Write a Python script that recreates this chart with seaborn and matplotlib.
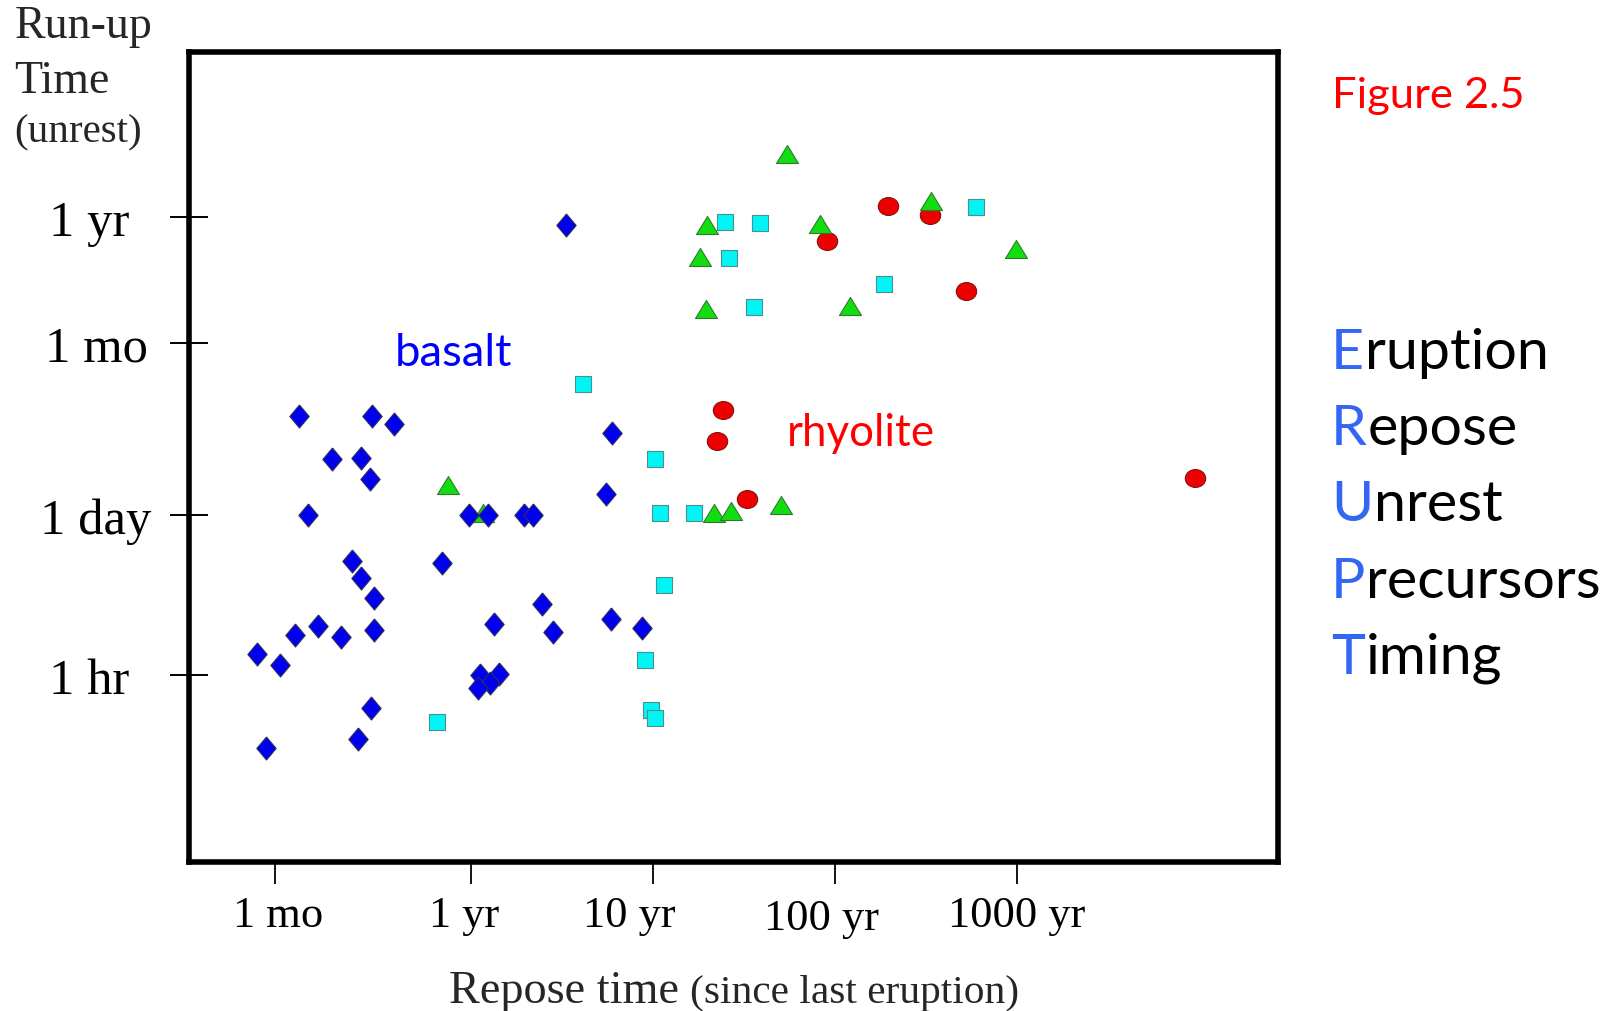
import numpy as np
import pandas as pd
import matplotlib
matplotlib.use("Agg")
import matplotlib.pyplot as plt
import seaborn as sns
from matplotlib.path import Path
from matplotlib.ticker import NullLocator, NullFormatter
from matplotlib.transforms import ScaledTranslation

# ---------------- data (repose time in years, run-up time in days) ----------------
diamond_repose_yr = [3.3, 0.113, 0.283, 0.377, 0.170, 0.248, 0.276, 0.126, 0.97, 1.24,
                     1.94, 2.18, 5.5, 5.97, 0.689, 0.221, 0.248, 0.290, 0.290, 0.143,
                     0.107, 0.191, 0.0662, 0.0883, 1.34, 2.45, 2.83, 5.89, 8.71, 1.12,
                     1.41, 1.27, 1.09, 0.279, 0.239, 0.0745]
diamond_runup_day = [311, 7.1, 7.1, 6.1, 3.05, 3.1, 2.03, 1.0, 1.0, 1.0,
                     1.0, 1.0, 1.52, 5.1, 0.387, 0.403, 0.284, 0.193, 0.102, 0.111,
                     0.0925, 0.0887, 0.064, 0.0511, 0.116, 0.171, 0.098, 0.128, 0.107, 0.0416,
                     0.0425, 0.036, 0.0326, 0.0216, 0.0119, 0.00993]

square_repose_yr = [24.8, 38.7, 597, 26.2, 35.8, 186, 4.13, 10.3, 10.9, 16.8,
                    11.5, 9.06, 9.68, 10.2, 0.645]
square_runup_day = [331, 324, 450, 162, 61.8, 96.8, 13.3, 3.05, 1.03, 1.03,
                    0.247, 0.0565, 0.0211, 0.0179, 0.0165]

triangle_repose_yr = [54.4, 19.9, 82.7, 340, 993, 18.1, 19.6, 121, 0.745, 1.16,
                      21.5, 26.8, 50.3]
triangle_runup_day = [1277, 311, 318, 498, 194, 165, 59.3, 63.1, 1.80, 1.03,
                      1.03, 1.08, 1.22]

circle_repose_yr = [196, 336, 90.6, 530, 24.2, 22.4, 32.7, 9550]
circle_runup_day = [459, 382, 229, 84.1, 8.02, 4.33, 1.37, 2.07]

x_tick_values = [1 / 12, 1, 10, 100, 1000]
x_tick_labels = ["1 mo", "1 yr", "10 yr", "100 yr", "1000 yr"]
y_tick_values = [1 / 24, 1, 30, 365]
y_tick_labels = ["1 hr", "1 day", "1 mo", "1 yr"]

erupt_words = ["Eruption", "Repose", "Unrest", "Precursors", "Timing"]

# ---------------- build table ----------------
frames = []
for name, xs, ys in [("circle", circle_repose_yr, circle_runup_day),
                     ("square", square_repose_yr, square_runup_day),
                     ("triangle", triangle_repose_yr, triangle_runup_day),
                     ("diamond", diamond_repose_yr, diamond_runup_day)]:
    frames.append(pd.DataFrame({"repose": xs, "runup": ys, "group": name}))
df = pd.concat(frames, ignore_index=True)

# ---------------- figure ----------------
sns.set_style("white")
W, H = 1619, 1012
fig = plt.figure(figsize=(W / 100, H / 100), dpi=100)
fig.patch.set_facecolor("white")


def fx(x):
    return x / W


def fy(y):
    return 1 - y / H


ax = fig.add_axes([fx(189), fy(863), (1277.5 - 189) / W, (863 - 52.5) / H])
ax.set_facecolor("white")
ax.set_xscale("log")
ax.set_yscale("log")

uc = Path.unit_circle()
ellipse_marker = Path(uc.vertices * np.array([1.0, 0.88]), uc.codes)
diamond_marker = [(0, 1), (0.84, 0), (0, -1), (-0.84, 0), (0, 1)]
triangle_marker = [(-1, -0.82), (1, -0.82), (0, 0.82), (-1, -0.82)]

styles = {
    "circle": dict(marker=ellipse_marker, color="#EE0000", edgecolor="#8A1010", s=215),
    "square": dict(marker="s", color="#00F5F5", edgecolor="#4A9090", s=117),
    "triangle": dict(marker=triangle_marker, color="#11DD11", edgecolor="#2E7A2E", s=250),
    "diamond": dict(marker=diamond_marker, color="#0000EE", edgecolor="#30305A", s=275),
}
for name in ["circle", "square", "triangle", "diamond"]:
    sub = df[df["group"] == name]
    st = styles[name]
    sns.scatterplot(data=sub, x="repose", y="runup", ax=ax, marker=st["marker"],
                    color=st["color"], edgecolor=st["edgecolor"], s=st["s"],
                    linewidth=0.8, legend=False, zorder=3)

ax.set_xlim(10 ** -1.554, 10 ** 4.436)
ax.set_ylim(10 ** -2.987, 10 ** 3.987)
ax.set_xlabel("")
ax.set_ylabel("")

# ticks
ax.set_xticks(x_tick_values)
ax.set_xticklabels(x_tick_labels, fontfamily="Liberation Serif", fontsize=32)
ax.set_yticks(y_tick_values)
ax.set_yticklabels(y_tick_labels, fontfamily="Liberation Serif", fontsize=36.5, ha="center")
ax.xaxis.set_minor_locator(NullLocator())
ax.yaxis.set_minor_locator(NullLocator())
ax.xaxis.set_minor_formatter(NullFormatter())
ax.yaxis.set_minor_formatter(NullFormatter())
ax.tick_params(axis="x", which="major", direction="out", length=16, width=1.3,
               color="black", pad=8, bottom=True, labelcolor="black")
ax.tick_params(axis="y", which="major", direction="inout", length=28, width=1.4,
               color="black", pad=56, left=True, labelcolor="black")

# small nudges of tick labels (pixels) to follow the original placement
x_label_nudge = [(3, 0), (-7, 0), (-24, 0), (-13, -3), (0, 0)]
for lab, (dx, dy) in zip(ax.get_xticklabels(), x_label_nudge):
    lab.set_transform(lab.get_transform() + ScaledTranslation(dx / 100, dy / 100, fig.dpi_scale_trans))
y_label_nudge = [(-3, 0), (4, 0), (5, 0), (-3, 0)]
for lab, (dx, dy) in zip(ax.get_yticklabels(), y_label_nudge):
    lab.set_transform(lab.get_transform() + ScaledTranslation(dx / 100, dy / 100, fig.dpi_scale_trans))

for sp in ax.spines.values():
    sp.set_visible(True)
    sp.set_linewidth(4)
    sp.set_color("black")
    sp.set_capstyle("projecting")
ax.grid(False)

serif = "Liberation Serif"
sans = "Lato"

# y-axis title (top-left)
fig.text(fx(14.5), fy(38), "Run-up", fontsize=33, family=serif, va="baseline", ha="left")
fig.text(fx(14.5), fy(93), "Time", fontsize=33, family=serif, va="baseline", ha="left")
fig.text(fx(14.5), fy(142), "(unrest)", fontsize=29.5, family=serif, va="baseline", ha="left")

# x-axis title
fig.text(fx(449), fy(1003), "Repose time", fontsize=33.3, family=serif, va="baseline", ha="left")
fig.text(fx(690), fy(1003), "(since last eruption)", fontsize=29.8, family=serif,
         va="baseline", ha="left")

# in-plot labels
fig.text(fx(394.5), fy(366.5), "basalt", fontsize=32.7, family=sans, color="#0000FF",
         va="baseline", ha="left")
fig.text(fx(787), fy(446), "rhyolite", fontsize=31.6, family=sans, color="#FF0000",
         va="baseline", ha="left")

# right side
fig.text(fx(1332), fy(108.4), "Figure 2.5", fontsize=31.3, family=sans, color="#FF0000",
         va="baseline", ha="left")
baselines = [368.6, 445.0, 521.4, 597.8, 674.2]
for word, b in zip(erupt_words, baselines):
    t1 = fig.text(fx(1331), fy(b), word[0], fontsize=41.3, family=sans, color="#3366F5",
                  va="baseline", ha="left")
    ax.annotate(word[1:], xy=(1, 0), xycoords=t1, xytext=(0.5, 0),
                textcoords="offset points", va="bottom", ha="left",
                fontsize=41.3, family=sans, color="black", annotation_clip=False)

fig.savefig("out.png", dpi=100, facecolor="white")
